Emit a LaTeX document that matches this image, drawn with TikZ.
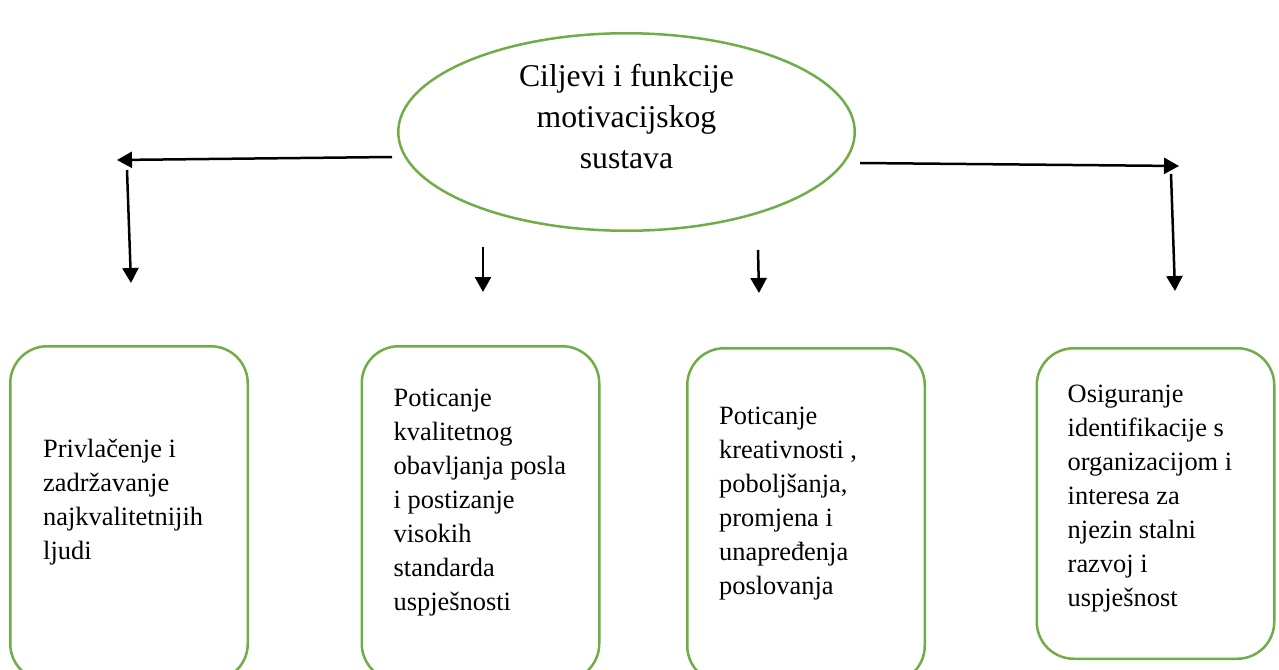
\documentclass[tikz,border=0pt]{standalone}
\usepackage{fontspec}
\setmainfont{Liberation Serif}
\usetikzlibrary{arrows.meta,positioning,shapes.geometric}
\definecolor{goalgreen}{HTML}{70AD47}

\begin{document}
\begin{tikzpicture}[x=1pt, y=1pt, >={Triangle[length=15pt, width=16pt]},
  goal/.style={draw=goalgreen, line width=2.5pt, ellipse, minimum width=456.5pt, minimum height=197.5pt, inner sep=0pt},
  box/.style={draw=goalgreen, line width=2.5pt, rounded corners=37pt, minimum width=237.5pt, inner sep=0pt},
  txt/.style={align=left, inner sep=0pt, font=\fontsize{26.4}{34}\selectfont},
  goaltxt/.style={align=center, inner sep=0pt, font=\fontsize{31.7}{41}\selectfont},
  arr/.style={->, line width=2.5pt}]
\path[use as bounding box] (0,0) rectangle (1279,-669);
\clip (0,0) rectangle (1279,-669);
% centre
\node[goal] (goal) at (626.5,-132) {};
\node[goaltxt, below=25.5pt of goal.north] (goaltxt) {\strut Ciljevi i funkcije\\motivacijskog\\sustava};
% the four aims
\node[box, minimum height=334.5pt] (b1) at (129,-513.5) {};
\node[box, minimum height=334.5pt] (b2) at (480.5,-513.5) {};
\node[box, minimum height=334.5pt] (b3) at (806,-515.5) {};
\node[box, minimum height=310.5pt] (b4) at (1155.5,-503.5) {};
\node[txt, below right=88.5pt and 34pt of b1.north west] (t1) {\strut Privlačenje i\\zadržavanje\\najkvalitetnijih\\ljudi};
\node[txt, below right=37pt and 33pt of b2.north west] (t2) {\strut Poticanje\\kvalitetnog\\obavljanja posla\\i postizanje\\visokih\\standarda\\uspješnosti};
\node[txt, below right=53pt and 33pt of b3.north west] (t3) {\strut Poticanje\\kreativnosti ,\\poboljšanja,\\promjena i\\unapređenja\\poslovanja};
\node[txt, below right=31.5pt and 32pt of b4.north west] (t4) {\strut Osiguranje\\identifikacije s\\organizacijom i\\interesa za\\njezin stalni\\razvoj i\\uspješnost};
% arrow ends
\coordinate (lstart) at (392,-157);
\coordinate (lturn) at (117,-160);
\coordinate (ldtop) at (127,-170);
\coordinate (ldend) at (131,-283);
\coordinate (m1top) at (483,-247);
\coordinate (m1end) at (483,-292);
\coordinate (m2top) at (758,-250);
\coordinate (m2end) at (759,-293);
\coordinate (rstart) at (860,-163);
\coordinate (rturn) at (1179,-166);
\coordinate (rdtop) at (1171,-174);
\coordinate (rdend) at (1175,-291);
\draw[arr] (lstart) -- (lturn);
\draw[arr] (ldtop) -- (ldend);
\draw[arr] (m1top) -- (m1end);
\draw[arr] (m2top) -- (m2end);
\draw[arr] (rstart) -- (rturn);
\draw[arr] (rdtop) -- (rdend);
\end{tikzpicture}
\end{document}
